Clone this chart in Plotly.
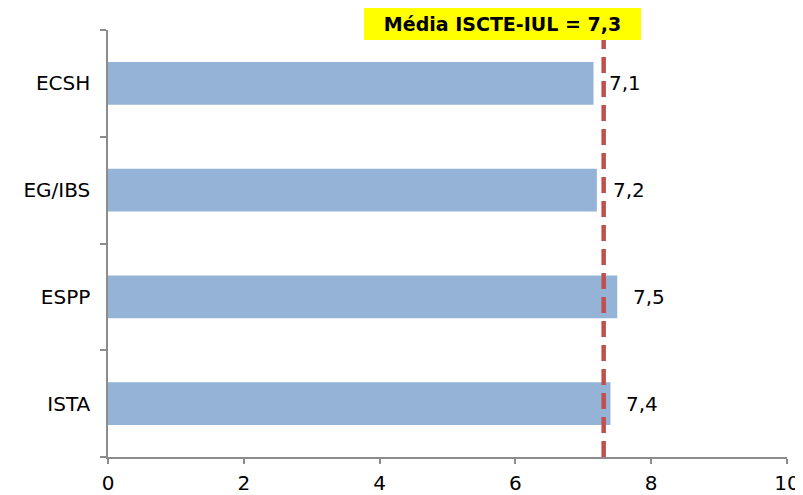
import plotly.graph_objects as go

categories = ["ECSH", "EG/IBS", "ESPP", "ISTA"]
values = [7.15, 7.2, 7.5, 7.4]
value_labels = ["7,1", "7,2", "7,5", "7,4"]
mean_value = 7.3
mean_label = "Média ISCTE-IUL = 7,3"
x_ticks = [0, 2, 4, 6, 8, 10]

font_family = "DejaVu Sans, Verdana, sans-serif"
axis_color = "#8c8c8c"

fig = go.Figure()
fig.add_trace(go.Bar(
    y=categories, x=values, orientation="h",
    marker=dict(color="#95B3D7", line=dict(width=0)),
    width=0.4, hoverinfo="skip",
))

for cat, v, lab in zip(categories, values, value_labels):
    fig.add_annotation(x=v, y=cat, xref="x", yref="y", text=lab, showarrow=False,
                       xanchor="left", xshift=14,
                       font=dict(family=font_family, size=20, color="#000000"))

fig.add_shape(type="line", xref="x", yref="paper", x0=mean_value, x1=mean_value,
              y0=0, y1=0.977, layer="above",
              line=dict(color="#C0504D", width=4.5, dash="16px,8px"))

fig.add_annotation(xref="paper", yref="paper", x=0.581, y=1.014, xanchor="center", yanchor="middle",
                   text="<b>" + mean_label + "</b>", showarrow=False,
                   bgcolor="#FFFF00", width=277, height=32, borderpad=0, borderwidth=0,
                   font=dict(family=font_family, size=19, color="#000000"))

fig.update_layout(
    width=795, height=487,
    margin=dict(l=100, r=16, t=22, b=38),
    plot_bgcolor="white", paper_bgcolor="white",
    showlegend=False,
    bargap=0.6,
    font=dict(family=font_family, size=20, color="#000000"),
    xaxis=dict(range=[0, 10], tickvals=x_ticks, ticktext=[str(t) for t in x_ticks],
               showgrid=False, zeroline=False, showline=True, linecolor=axis_color, linewidth=1.5,
               ticks="outside", ticklen=5, tickcolor=axis_color, tickwidth=1.5,
               ticklabelstandoff=2,
               tickfont=dict(size=20), automargin=False),
    yaxis=dict(categoryorder="array", categoryarray=categories[::-1],
               showgrid=False, zeroline=False, showline=True, linecolor=axis_color, linewidth=1.5,
               ticks="outside", ticklen=6, tickcolor=axis_color, tickwidth=1.5,
               tickson="boundaries", ticklabelstandoff=12, automargin=False,
               tickfont=dict(size=20), range=[-0.5, 3.5]),
)

fig.write_html("out.html")
